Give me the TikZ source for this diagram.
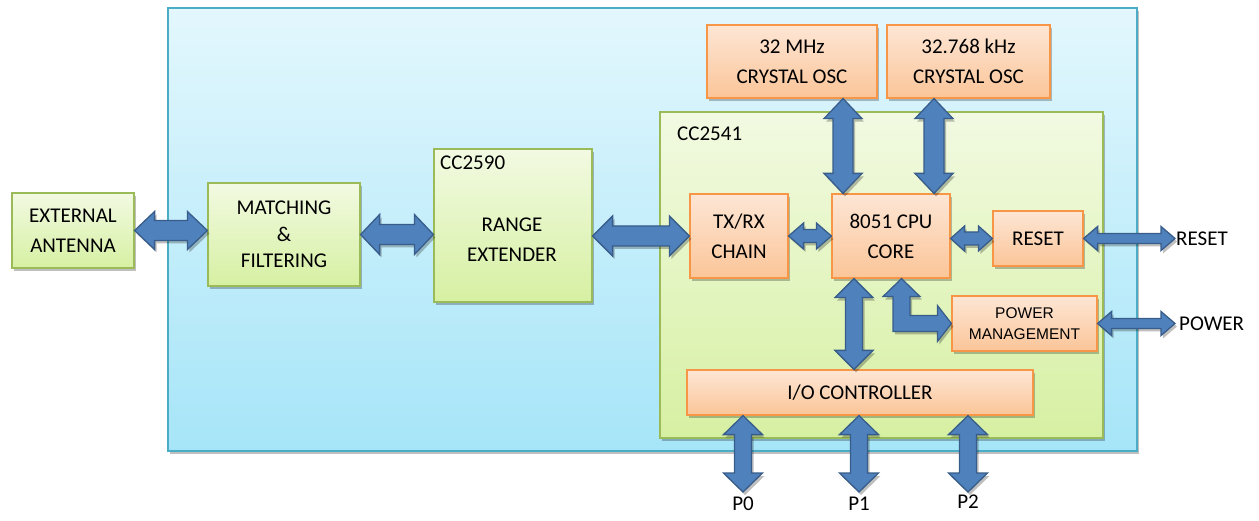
\documentclass[tikz,border=0pt]{standalone}
\usepackage{fontspec}
\setmainfont{Carlito}
\newfontfamily\arialfont{Liberation Sans}
\usetikzlibrary{calc,shadows,positioning}
\definecolor{boardtop}{HTML}{E3F7FD}
\definecolor{boardbot}{HTML}{A6E5F8}
\definecolor{boardline}{HTML}{4BACC6}
\definecolor{grntop}{HTML}{F2FAE2}
\definecolor{grnbot}{HTML}{D6F0A2}
\definecolor{grnline}{HTML}{9BBB59}
\definecolor{orgtop}{HTML}{FDE6D5}
\definecolor{orgbot}{HTML}{FBC598}
\definecolor{orgline}{HTML}{F79646}
\definecolor{arwfill}{HTML}{4F81BD}
\definecolor{arwline}{HTML}{385D8A}
\tikzset{
	shd/.style={drop shadow={shadow xshift=2pt, shadow yshift=-3pt, opacity=0.25, fill=black}},
	grn/.style={shd, draw=grnline, line width=1.2pt, top color=grntop, bottom color=grnbot, align=center},
	org/.style={shd, draw=orgline, line width=1.2pt, top color=orgtop, bottom color=orgbot, align=center},
	arw/.style={shd, fill=arwfill, draw=arwline, line width=1.3pt, line join=miter},
	dbl/.style n args={3}{to path={let \p1=(\tikztostart), \p2=(\tikztotarget), \n1={atan2(\y2-\y1,\x2-\x1)} in
		(\p1) -- ($(\p1)+(\n1:#3pt)+(\n1+90:#2pt)$) -- ($(\p1)+(\n1:#3pt)+(\n1+90:#1pt)$)
		-- ($(\p2)+(\n1+180:#3pt)+(\n1+90:#1pt)$) -- ($(\p2)+(\n1+180:#3pt)+(\n1+90:#2pt)$)
		-- (\p2) -- ($(\p2)+(\n1+180:#3pt)+(\n1-90:#2pt)$) -- ($(\p2)+(\n1+180:#3pt)+(\n1-90:#1pt)$)
		-- ($(\p1)+(\n1:#3pt)+(\n1-90:#1pt)$) -- ($(\p1)+(\n1:#3pt)+(\n1-90:#2pt)$) -- cycle}}
}
\begin{document}
\begin{tikzpicture}[x=1pt, y=-1pt, every node/.append style={font=\fontsize{21}{30}\selectfont}]
		\useasboundingbox (0,0) rectangle (1259,521);
		\node (board) at (652.5,229.5) [shd, draw=boardline, line width=1.3pt, top color=boardtop, bottom color=boardbot, minimum width=969pt, minimum height=443pt] {};
		\node (chip) at (881.5,275) [grn, minimum width=443pt, minimum height=326pt] {};
		\node (chipl) at (677,141) [anchor=base west, inner sep=0pt] {CC2541};
		\node (ant) at (73,230.5) [grn, minimum width=122pt, minimum height=75pt] {EXTERNAL\\ANTENNA};
		\node (mat) at (284,234.5) [grn, minimum width=152pt, minimum height=103pt, font=\fontsize{21}{26.5}\selectfont] {MATCHING\\\&\\FILTERING};
		\node (rng) at (513,225.5) [grn, minimum width=158pt, minimum height=153pt] {};
		\node (rngl) at (440,170) [anchor=base west, inner sep=0pt] {CC2590};
		\node (rngt) at (512,240) [align=center] {RANGE\\EXTENDER};
		\node (osca) at (792,61.5) [org, minimum width=170pt, minimum height=73pt] {32 MHz\\CRYSTAL OSC};
		\node (oscb) at (968.5,61.5) [org, minimum width=163pt, minimum height=73pt] {32.768 kHz\\CRYSTAL OSC};
		\node (txrx) at (739,236) [org, minimum width=98pt, minimum height=84pt] {TX/RX\\CHAIN};
		\node (cpu) at (891,236) [org, minimum width=118pt, minimum height=84pt] {8051 CPU\\CORE};
		\node (rst) at (1038,238.5) [org, minimum width=90pt, minimum height=55pt] {RESET};
		\node (pwr) at (1024.5,323.5) [org, minimum width=145pt, minimum height=55pt, font=\arialfont\fontsize{15.5}{21}\selectfont] {POWER\\MANAGEMENT};
		\node (io) at (860,392.5) [org, minimum width=346pt, minimum height=45pt] {I/O CONTROLLER};
		\coordinate (er) at (1175,238.5);
		\coordinate (ep) at (1175,323.5);
		\coordinate (e0) at (743,492);
		\coordinate (e1) at (859,492);
		\coordinate (e2) at (968,492);
		\node (rstl) [right=1pt of er, inner sep=0pt] {RESET};
		\node (pwrl) [right=4pt of ep, inner sep=0pt] {POWER};
		\node (p0) [below=5pt of e0, inner sep=0pt] {P0};
		\node (p1) [below=5pt of e1, inner sep=0pt] {P1};
		\node (p2) [below=3pt of e2, inner sep=0pt] {P2};
		\draw[arw] (ant.east) to[dbl={10}{19}{20}] (mat.west |- ant.east);
		\draw[arw] (mat.east) to[dbl={10}{20}{19}] (rng.west |- mat.east);
		\draw[arw] (rng.east |- txrx.west) to[dbl={10}{20}{20}] (txrx.west);
		\draw[arw] (txrx.east) to[dbl={6.5}{13}{15}] (cpu.west);
		\draw[arw] (cpu.east |- rst.west) to[dbl={6.5}{12.5}{14}] (rst.west);
		\draw[arw] (rst.east) to[dbl={5}{12}{14}] (er);
		\draw[arw] (pwr.east) to[dbl={5}{12}{14}] (ep);
		\draw[arw] ($(cpu.north)+(-48,0)$) coordinate (ca) to[dbl={10}{19}{20}] (ca |- osca.south);
		\draw[arw] ($(cpu.north)+(43,0)$) coordinate (cb) to[dbl={10}{19}{20}] (cb |- oscb.south);
		\draw[arw] ($(cpu.south)+(-37,0)$) coordinate (cc) to[dbl={8.5}{19}{19}] (cc |- io.north);
		\draw[arw] (e0 |- io.south) to[dbl={8.5}{19.5}{19}] (e0);
		\draw[arw] (e1 |- io.south) to[dbl={8.5}{19.5}{19}] (e1);
		\draw[arw] (e2 |- io.south) to[dbl={8.5}{19.5}{19}] (e2);
		\draw[arw] ($(cpu.south)+(10.5,0)$) -- ++(18.5,18) -- ++(-10,0) |- ($(pwr.west)+(-14,-8)$) -- ++(0,-10) -- (pwr.west) -- ++(-14,18) -- ++(0,-10) -| ($(cpu.south)+(2,18)$) -- ++(-10,0) -- cycle;
	\end{tikzpicture}
\end{document}
